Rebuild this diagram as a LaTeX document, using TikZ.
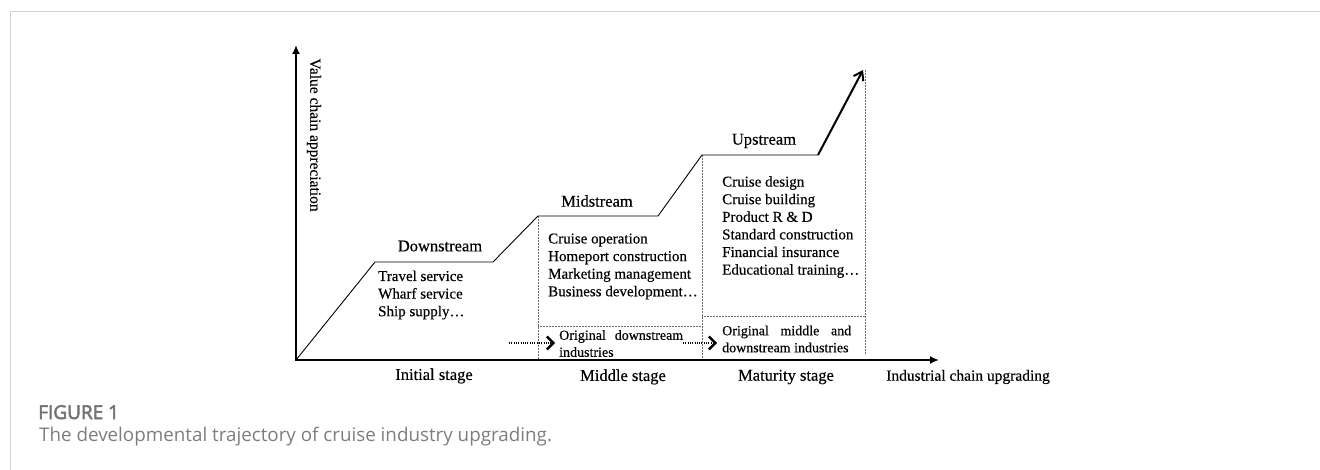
\documentclass[tikz,border=0pt]{standalone}
\usepackage{fontspec}
\setmainfont{Liberation Serif}[FakeBold=0.35]
\newfontfamily\capfont{Open Sans}
\newfontfamily\capboldfont{Open Sans}[FakeBold=3]
\usetikzlibrary{arrows.meta}
\definecolor{framegray}{HTML}{D2D2D2}
\definecolor{capgray}{HTML}{7D7D7D}
\definecolor{fignogray}{HTML}{737373}
\definecolor{dotgray}{HTML}{6E6E6E}
\begin{document}
\begin{tikzpicture}[x=1pt,y=-1pt,
  axisline/.style={line width=2.4pt, line join=miter, {Latex[length=9pt,width=8pt]}-{Latex[length=9pt,width=8pt]}},
  trail/.style={line width=0.9pt, line join=miter},
  riser/.style={line width=2pt, -{Straight Barb[length=8pt,width=11pt,line width=2pt]}},
  dotline/.style={line width=0.8pt, dotgray, dash pattern=on 0.6pt off 0.9pt},
  migr/.style={line width=1.1pt, dash pattern=on 1pt off 1.3pt, -{Straight Barb[length=6.5pt,width=13pt,line width=2.4pt]}},
  head/.style={font=\fontsize{16.5}{18}\selectfont, inner sep=0},
  axlab/.style={font=\fontsize{15.5}{17}\selectfont, inner sep=0},
  items/.style={font=\fontsize{15}{17.6}\selectfont, align=left, inner sep=0, anchor=west},
  small/.style={font=\fontsize{14}{17}\selectfont, align=left, inner sep=0, anchor=west}]
\useasboundingbox (0,0) rectangle (1320,470);
% frame
\coordinate (fb) at (10,470);
\coordinate (fc) at (10,12);
\coordinate (fr) at (1320,12);
\draw[framegray, line width=1pt] (fb) -- (fc) -- (fr);
% key points
\coordinate (o) at (296,360);
\coordinate (ytip) at (296,45);
\coordinate (xtip) at (939,360);
\coordinate (d1) at (375,262);
\coordinate (d2) at (493,262);
\coordinate (m1) at (538,216);
\coordinate (m2) at (658,216);
\coordinate (u1) at (702,155);
\coordinate (u2) at (818,155);
\coordinate (utip) at (863,70);
% dotted box corners
\coordinate (mb) at (538,359);
\coordinate (ml) at (538,326);
\coordinate (mr) at (702,326);
\coordinate (ub) at (702,359);
\coordinate (ul) at (702,316);
\coordinate (ur) at (865,316);
\coordinate (rt) at (865,70);
\coordinate (rb) at (865,355);
% migration arrows
\coordinate (a1s) at (509,343);
\coordinate (a1e) at (555,343);
\coordinate (a2s) at (683,343);
\coordinate (a2e) at (717,343);
% dotted boxes
\draw[dotline] (m1) -- (mb);
\draw[dotline] (ml) -- (mr);
\draw[dotline] (u1) -- (ub);
\draw[dotline] (ul) -- (ur);
\draw[dotline] (rt) -- (rb);
% axes
\draw[axisline] (ytip) -- (o) -- (xtip);
% trajectory
\draw[trail] (o) -- (d1) -- (d2) -- (m1) -- (m2) -- (u1) -- (u2);
\draw[riser] (u2) -- (utip);
% migration
\draw[migr] (a1s) -- (a1e);
\draw[migr] (a2s) -- (a2e);
% labels
\node[axlab, rotate=-90] (ylab) at (314,135) {Value chain appreciation};
\node[head] (down) at (440,246) {Downstream};
\node[head] (mid) at (597,201) {Midstream};
\node[head] (up) at (764,141) {Upstream};
\node[items] (downitems) at (378,295) {Travel service\\Wharf service\\Ship supply…};
\node[items] (miditems) at (548,266.5) {Cruise operation\\Homeport construction\\Marketing management\\Business development…};
\node[items] (upitems) at (722,227) {Cruise design\\Cruise building\\Product R \& D\\Standard construction\\Financial insurance\\Educational training…};
\node[small] (origdown) at (559,343.5) {\makebox[124pt][s]{Original downstream}\\industries};
\node[small] (origmid) at (722,339) {\makebox[129pt][s]{Original middle and}\\downstream industries};
\node[head] (s1) at (434,376) {Initial stage};
\node[head] (s2) at (623,377) {Middle stage};
\node[head] (s3) at (786,377) {Maturity stage};
\node[axlab] (s4) at (968,377) {Industrial chain upgrading};
% caption
\node[anchor=base west, inner sep=0, text=fignogray, font=\capboldfont\fontsize{19}{21}\selectfont] (figno) at (38,419) {FIGURE 1};
\node[anchor=base west, inner sep=0, text=capgray, font=\capfont\fontsize{18.8}{21}\selectfont] (cap) at (39,441) {The developmental trajectory of cruise industry upgrading.};
\end{tikzpicture}
\end{document}
